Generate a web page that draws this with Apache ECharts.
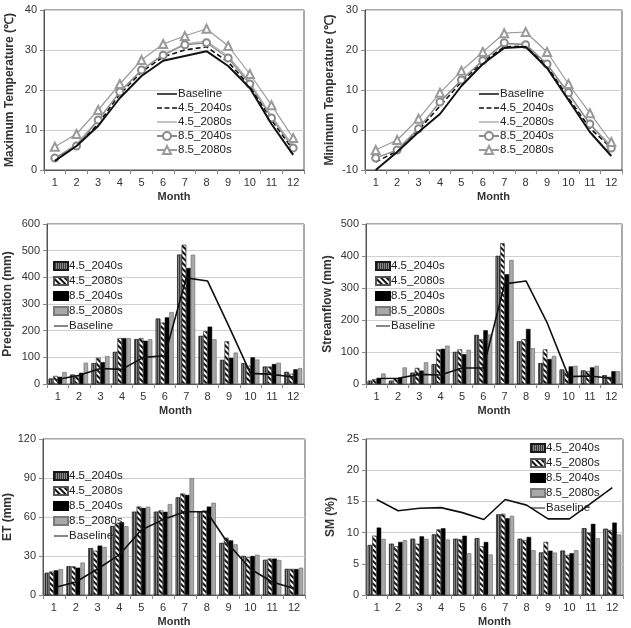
<!DOCTYPE html>
<html>
<head>
<meta charset="utf-8">
<script src="https://cdn.jsdelivr.net/npm/echarts@6/dist/echarts.min.js"></script>
<style>
  html, body { margin: 0; padding: 0; background: #fff; }
  #chart { width: 631px; height: 628px; }
</style>
</head>
<body>
<div id="chart"></div>
<script>
const months = ['1', '2', '3', '4', '5', '6', '7', '8', '9', '10', '11', '12']

// Maximum temperature (℃)
const tmaxBaseline = [2.3, 6, 11, 18, 23.5, 27.3, 28.5, 29.7, 26, 20.5, 11.5, 3.8]
const tmax45_2040 = [2.8, 6, 11.5, 19, 24.5, 28.3, 30, 30.8, 27, 21, 12.5, 5]
const tmax45_2080 = [3, 6.5, 12.5, 19.5, 25, 29, 31.5, 32.2, 28.5, 22, 13.5, 6]
const tmax85_2040 = [3, 6, 12.5, 19.5, 25, 28.7, 31.3, 31.8, 28, 21.5, 13, 5.5]
const tmax85_2080 = [5.8, 9, 15, 21.5, 27.5, 31.5, 33.5, 35.3, 31, 24, 16.2, 8]

// Minimum temperature (℃)
const tminBaseline = [-10, -5.5, -0.5, 4, 11, 16.5, 20.5, 20.8, 15.5, 7.5, -0.5, -6.5]
const tmin45_2040 = [-8, -5.3, 0, 6, 12, 17, 20.8, 21, 16, 8, 0.5, -4.5]
const tmin45_2080 = [-7, -5, 0.5, 7, 12.5, 17.5, 21.5, 21.5, 16.5, 9, 1.5, -4]
const tmin85_2040 = [-7, -5, 0.3, 7, 12.5, 17.3, 21.8, 21.3, 16.5, 9.3, 1.5, -4.5]
const tmin85_2080 = [-5, -2.5, 2.8, 9.3, 14.8, 19.5, 24.2, 24.5, 19.5, 11.5, 4.2, -3]

// Precipitation (mm)
const pr45_2040 = [20, 35, 78, 120, 168, 245, 485, 180, 90, 78, 65, 45]
const pr45_2080 = [30, 30, 98, 172, 172, 230, 522, 198, 160, 68, 65, 38]
const pr85_2040 = [27, 42, 82, 172, 162, 250, 435, 215, 98, 100, 75, 55]
const pr85_2080 = [45, 80, 105, 172, 168, 270, 485, 168, 118, 92, 80, 60]
const prBaseline = [17, 33, 58, 55, 100, 106, 398, 386, 215, 40, 36, 26]

// Streamflow (mm)
const sf45_2040 = [10, 10, 35, 62, 100, 153, 400, 133, 65, 45, 42, 27]
const sf45_2080 = [15, 18, 50, 108, 108, 140, 440, 140, 108, 38, 40, 22]
const sf85_2040 = [18, 20, 42, 110, 93, 168, 343, 172, 78, 55, 52, 40]
const sf85_2080 = [33, 52, 68, 120, 107, 155, 388, 112, 88, 57, 57, 40]
const sfBaseline = [17, 18, 30, 28, 50, 50, 313, 322, 190, 23, 25, 18]

// ET (mm)
const et45_2040 = [17, 22, 36, 53, 64, 64, 75, 64, 40, 30, 27, 20]
const et45_2080 = [18, 22, 34, 55, 68, 65, 78, 65, 44, 29, 28, 20]
const et85_2040 = [19, 21, 38, 56, 67, 64, 77, 68, 42, 30, 28, 20]
const et85_2080 = [20, 25, 37, 53, 68, 70, 90, 71, 39, 31, 27, 21]
const etBaseline = [5.5, 10, 20, 31, 50, 58, 64, 64, 39, 20, 10, 5]

// SM (%)
const sm45_2040 = [8, 8.2, 9, 9.7, 9, 9.1, 12.9, 9, 6.8, 7.1, 10.7, 10.6]
const sm45_2080 = [9.5, 7.8, 8.2, 10.5, 8.9, 7.8, 13, 8.8, 8.5, 6.4, 10, 10.4]
const sm85_2040 = [10.8, 8.5, 9.4, 10.7, 9.5, 8.5, 12.3, 9.3, 7.1, 6.7, 11.4, 11.6]
const sm85_2080 = [9, 8.8, 9, 8.9, 6.7, 6.5, 12.7, 7.2, 6.8, 7.2, 9.1, 9.7]
const smBaseline = [15.3, 13.5, 13.9, 14, 13.2, 12.1, 15.3, 14.4, 12.2, 12.2, 14.7, 17.2]

const FONT = 'Liberation Sans, Arial, sans-serif'

// 每个面板的位置
const grids = [
  { left: 44, top: 10, width: 260, height: 160 },
  { left: 365, top: 10, width: 257, height: 160 },
  { left: 47, top: 224, width: 257, height: 160 },
  { left: 366, top: 224, width: 256, height: 160 },
  { left: 43, top: 439, width: 262, height: 159 },
  { left: 366, top: 439, width: 257, height: 159 },
]
const yAxes = [
  { name: 'Maximum Temperature (℃)', min: 0, max: 40, interval: 10, gap: 28 },
  { name: 'Minimum Temperature (℃)', min: -10, max: 30, interval: 10, gap: 29 },
  { name: 'Precipitation (mm)', min: 0, max: 600, interval: 100, gap: 33 },
  { name: 'Streamflow (mm)', min: 0, max: 500, interval: 100, gap: 32 },
  { name: 'ET (mm)', min: 0, max: 120, interval: 30, gap: 27 },
  { name: 'SM (%)', min: 0, max: 25, interval: 5, gap: 29 },
]

// bar series names carry a trailing space so their legend icons stay bars
const barStyles = {
  '4.5_2040s ': {
    color: '#3a3a3a', borderColor: '#1a1a1a', borderWidth: 0.5,
    decal: { symbol: 'rect', color: 'rgba(200,200,200,0.55)', dashArrayX: [1, 1], dashArrayY: [4, 0], symbolKeepAspect: false }
  },
  '4.5_2080s ': {
    color: '#ffffff', borderColor: '#555', borderWidth: 0.5,
    decal: { symbol: 'rect', color: '#111', dashArrayX: [1, 0], dashArrayY: [1.5, 2], rotation: Math.PI / 4, symbolKeepAspect: false }
  },
  '8.5_2040s ': { color: '#000000', borderColor: '#000', borderWidth: 0.5 },
  '8.5_2080s ': { color: '#a8a8a8', borderColor: '#7a7a7a', borderWidth: 0.8 },
}

const barSeries = (i, name, data) => ({
  name, type: 'bar', xAxisIndex: i, yAxisIndex: i, data,
  barGap: '0%', barCategoryGap: '16%',
  itemStyle: barStyles[name],
})
const baselineSeries = (i, data, width) => ({
  name: 'Baseline', type: 'line', xAxisIndex: i, yAxisIndex: i, data,
  symbol: 'none', z: 5,
  lineStyle: { color: '#111', width: width || 1.6 },
  itemStyle: { color: '#111' },
})
const tempSeries = (i, base, a, b, c, d) => [
  baselineSeries(i, base, 2),
  {
    name: '4.5_2040s', type: 'line', xAxisIndex: i, yAxisIndex: i, data: a, symbol: 'none',
    lineStyle: { color: '#111', width: 1.6, type: [5, 3] }, itemStyle: { color: '#111' }
  },
  {
    name: '4.5_2080s', type: 'line', xAxisIndex: i, yAxisIndex: i, data: b, symbol: 'none',
    lineStyle: { color: '#b0b0b0', width: 1.3 }, itemStyle: { color: '#b0b0b0' }
  },
  {
    name: '8.5_2040s', type: 'line', xAxisIndex: i, yAxisIndex: i, data: c,
    symbol: 'emptyCircle', symbolSize: 7,
    lineStyle: { color: '#8a8a8a', width: 1.2 }, itemStyle: { color: '#8a8a8a', borderWidth: 1 }
  },
  {
    name: '8.5_2080s', type: 'line', xAxisIndex: i, yAxisIndex: i, data: d,
    symbol: 'emptyTriangle', symbolSize: 8,
    lineStyle: { color: '#9a9a9a', width: 1.2 }, itemStyle: { color: '#9a9a9a', borderWidth: 1 }
  },
]
const barGroup = (i, a, b, c, d, base) => [
  barSeries(i, '4.5_2040s ', a),
  barSeries(i, '4.5_2080s ', b),
  barSeries(i, '8.5_2040s ', c),
  barSeries(i, '8.5_2080s ', d),
  baselineSeries(i, base),
]

// legend icons: plain line / dashed line (tiny corner dots fix the 20x10 box)
const BOX = 'M0,0h0.01v0.01h-0.01z M20,9.99h0.01v0.01h-0.01z '
const solidIcon = 'path://' + BOX + 'M0,4.2h20v1.6h-20z'
const dashIcon = 'path://' + BOX + 'M0,4.2h5v1.6h-5z M7.5,4.2h5v1.6h-5z M15,4.2h5v1.6h-5z'

const lineLegend = [
  { name: 'Baseline', icon: solidIcon },
  { name: '4.5_2040s', icon: dashIcon },
  { name: '4.5_2080s', icon: solidIcon },
  { name: '8.5_2040s' },
  { name: '8.5_2080s' },
]
const barLegend = [
  { name: '4.5_2040s ', icon: 'rect' },
  { name: '4.5_2080s ', icon: 'rect' },
  { name: '8.5_2040s ', icon: 'rect' },
  { name: '8.5_2080s ', icon: 'rect' },
  { name: 'Baseline', icon: solidIcon },
]
const legendPos = [
  { left: 156, top: 88, items: lineLegend, w: 20, h: 10 },
  { left: 478, top: 88, items: lineLegend, w: 20, h: 10 },
  { left: 53, top: 260, items: barLegend, w: 14, h: 8 },
  { left: 375, top: 260, items: barLegend, w: 14, h: 8 },
  { left: 53, top: 470, items: barLegend, w: 14, h: 8 },
  { left: 530, top: 442, items: barLegend, w: 14, h: 8 },
]

const chartInit = () => {
  const myChart = echarts.init(document.getElementById('chart'))
  const option = {
    animation: false,
    backgroundColor: '#fff',
    textStyle: { fontFamily: FONT },
    grid: grids.map(g => ({ ...g, show: true, borderColor: '#555', borderWidth: 1, containLabel: false })),
    legend: legendPos.map(l => ({
      data: l.items,
      left: l.left, top: l.top, orient: 'vertical',
      itemWidth: l.w, itemHeight: l.h, itemGap: l.h === 10 ? 2 : 3,
      padding: 0, selectedMode: false,
      textStyle: { fontSize: 11.5, color: '#222', padding: [0, 0, 0, -4] },
    })),
    xAxis: grids.map((g, i) => ({
      type: 'category', gridIndex: i, data: months,
      boundaryGap: true,
      name: 'Month', nameLocation: 'middle', nameGap: 21,
      nameTextStyle: { fontWeight: 'bold', fontSize: 11, color: '#333' },
      axisLine: { onZero: false, lineStyle: { color: '#555' } },
      axisTick: { show: true, length: 4, lineStyle: { color: '#888' } },
      axisLabel: { fontSize: 11, color: '#333', margin: 7 },
      splitLine: { show: false },
    })),
    yAxis: yAxes.map((y, i) => ({
      type: 'value', gridIndex: i, min: y.min, max: y.max, interval: y.interval,
      name: y.name, nameLocation: 'middle', nameGap: y.gap,
      nameTextStyle: { fontWeight: 'bold', fontSize: 12, color: '#333' },
      axisLine: { show: true, lineStyle: { color: '#555' } },
      axisTick: { show: true, length: 4, lineStyle: { color: '#888' } },
      axisLabel: { fontSize: 11, color: '#333', margin: 7 },
      splitLine: { show: true, lineStyle: { color: '#cfcfcf' } },
    })),
    series: [
      ...tempSeries(0, tmaxBaseline, tmax45_2040, tmax45_2080, tmax85_2040, tmax85_2080),
      ...tempSeries(1, tminBaseline, tmin45_2040, tmin45_2080, tmin85_2040, tmin85_2080),
      ...barGroup(2, pr45_2040, pr45_2080, pr85_2040, pr85_2080, prBaseline),
      ...barGroup(3, sf45_2040, sf45_2080, sf85_2040, sf85_2080, sfBaseline),
      ...barGroup(4, et45_2040, et45_2080, et85_2040, et85_2080, etBaseline),
      ...barGroup(5, sm45_2040, sm45_2080, sm85_2040, sm85_2080, smBaseline),
    ],
  }
  myChart.setOption(option)
  window.addEventListener('resize', () => {
    myChart?.resize()
  })
}

chartInit()
</script>
</body>
</html>
